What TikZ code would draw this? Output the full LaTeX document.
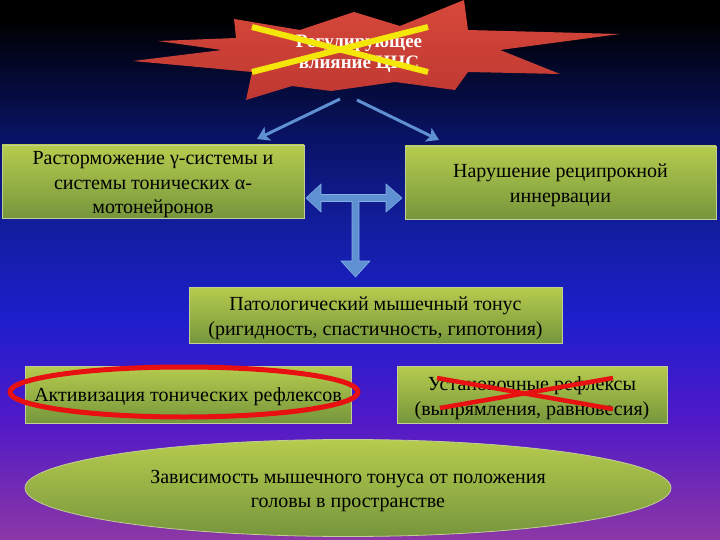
\documentclass[tikz,border=0pt]{standalone}
\usepackage{fontspec}
\setmainfont{Liberation Serif}
\usetikzlibrary{arrows.meta,shapes.geometric,calc}
\definecolor{bgA}{RGB}{0,0,0}
\definecolor{bgB}{RGB}{8,18,95}
\definecolor{bgC}{RGB}{18,30,160}
\definecolor{bgD}{RGB}{30,30,205}
\definecolor{bgE}{RGB}{80,25,200}
\definecolor{bgF}{RGB}{140,55,165}
\definecolor{startop}{RGB}{215,72,58}
\definecolor{starbot}{RGB}{190,56,50}
\definecolor{xyellow}{RGB}{245,230,10}
\definecolor{xred}{RGB}{232,16,16}
\definecolor{arrowblue}{RGB}{95,145,210}
\definecolor{arrowedge}{RGB}{130,175,230}
\definecolor{boxtop}{RGB}{182,204,78}
\definecolor{boxbot}{RGB}{118,150,60}
\definecolor{boxedge}{RGB}{195,205,150}
\tikzset{
  gbox/.style={draw=boxedge, line width=0.8pt, top color=boxtop, bottom color=boxbot, inner sep=0pt},
  btext/.style={align=center, font=\fontsize{20}{24.5}\selectfont, text=black, inner sep=0pt},
  thinarrow/.style={draw=arrowblue, line width=3pt, -{Stealth[length=12pt,width=15pt,inset=3pt]}},
  crossY/.style={draw=xyellow, line width=6pt},
  crossR/.style={draw=xred, line width=4.5pt},
}
\begin{document}
\begin{tikzpicture}[x=1pt,y=-1pt]
\useasboundingbox (0,0) rectangle (720,540);
% background
\shade[top color=bgA, bottom color=bgA] (0,0) rectangle (720,20);
\shade[top color=bgA, bottom color=bgB] (0,19.5) rectangle (720,130);
\shade[top color=bgB, bottom color=bgC] (0,129.5) rectangle (720,230);
\shade[top color=bgC, bottom color=bgD] (0,229.5) rectangle (720,320);
\shade[top color=bgD, bottom color=bgE] (0,319.5) rectangle (720,420);
\shade[top color=bgE, bottom color=bgF] (0,419.5) rectangle (720,540);
% star
\shade[top color=startop, bottom color=starbot] (234,19) -- (300,30) -- (354,12) -- (400,26) -- (464,0) -- (468,30)
  -- (620,34) -- (500,50) -- (560,74) -- (468,72) -- (455,90) -- (395,82)
  -- (331,91) -- (292,86) -- (246,100) -- (252,72) -- (133,61) -- (222,50)
  -- (158,41) -- (236,38) -- cycle;
\node[text=white, font=\bfseries\fontsize{19}{21}\selectfont, align=center] (title) at (359,54)
  {Регулирующее\\влияние ЦНС};
\coordinate (ya1) at (252,27); \coordinate (ya2) at (428,72);
\coordinate (yb1) at (252,72); \coordinate (yb2) at (428,27);
\draw[crossY] (ya1) -- (ya2);
\draw[crossY] (yb1) -- (yb2);
% boxes
\node[gbox, minimum width=302pt, minimum height=73pt] (b1) at (153,181.5) {};
\node[btext] (b1t) at ([yshift=-3.5pt]b1.center)
  {Растормoжение γ-системы и\\системы тонических α-\\мотонейронов};
\node[gbox, minimum width=311pt, minimum height=73pt] (b2) at (560.5,182.5) {};
\node[btext] (b2t) at ([yshift=-3pt]b2.center) {Нарушение реципрокной\\иннервации};
\node[gbox, minimum width=373pt, minimum height=56pt] (b3) at (375.5,315) {};
\node[btext] (b3t) at ([yshift=-3.5pt]b3.center)
  {Патологический мышечный тонус\\(ригидность, спастичность, гипотония)};
\node[gbox, minimum width=326pt, minimum height=57pt] (b4) at (188,394.5) {};
\node[btext] (b4t) at ([yshift=-2pt]b4.center) {Активизация тонических рефлексов};
\node[gbox, minimum width=270pt, minimum height=57pt] (b5) at (532,394.5) {};
\node[btext] (b5t) at ([yshift=-3.5pt]b5.center) {Установочные рефлексы\\(выпрямления, равновесия)};
\node[gbox, ellipse, minimum width=646pt, minimum height=97pt] (e1) at (348,488) {};
\node[btext] (e1t) at ([yshift=-3pt]e1.center)
  {Зависимость мышечного тонуса от положения\\головы в пространстве};
% arrows from star
\coordinate (s1) at (340,99); \coordinate (t1) at (257,139);
\coordinate (s2) at (357,100); \coordinate (t2) at (439,140);
\draw[thinarrow] (s1) -- (t1);
\draw[thinarrow] (s2) -- (t2);
% T arrow
\filldraw[fill=arrowblue, draw=arrowedge, line width=0.6pt]
  (306,198) -- (321,184) -- (321,194.5) -- (386,194.5) -- (386,184) -- (402,198)
  -- (386,212) -- (386,201.5) -- (359,201.5) -- (359,261) -- (370,261) -- (355.5,277)
  -- (341,261) -- (352,261) -- (352,201.5) -- (321,201.5) -- (321,212) -- cycle;
% red ellipse & cross
\draw[xred, line width=5pt] (184,392) ellipse [x radius=174, y radius=25];
\coordinate (ra1) at (437,378); \coordinate (ra2) at (613,409);
\coordinate (rb1) at (440,408); \coordinate (rb2) at (613,378);
\draw[crossR] (ra1) -- (ra2);
\draw[crossR] (rb1) -- (rb2);
\end{tikzpicture}
\end{document}
